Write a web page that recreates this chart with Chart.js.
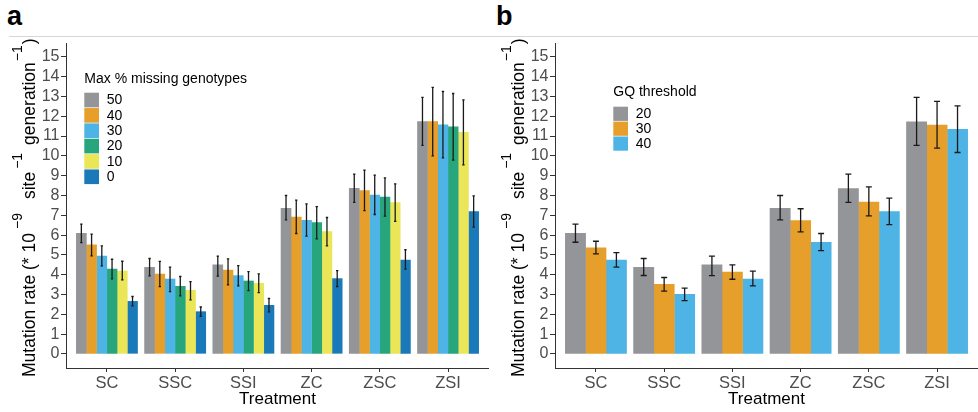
<!DOCTYPE html>
<html>
<head>
<meta charset="utf-8">
<script src="https://cdn.jsdelivr.net/npm/chart.js@4.4.1/dist/chart.umd.min.js"></script>
<style>
  html, body { margin: 0; padding: 0; background: #fff; }
  #wrap { position: relative; width: 978px; height: 412px; overflow: hidden; font-family: 'Liberation Sans', Arial, sans-serif; }
  .rule { position: absolute; left: 9px; top: 36px; width: 969px; height: 1px; background: #d6d6d6; }
  .tag { position: absolute; top: 3px; font-size: 27px; font-weight: bold; line-height: 27px; color: #000; }
  canvas { position: absolute; top: 0; }
</style>
</head>
<body>
<div id="wrap">
  <div class="rule"></div>
  <div class="tag" style="left:7px">a</div>
  <div class="tag" style="left:496px">b</div>
  <canvas id="chartA" width="489" height="412" style="left:0"></canvas>
  <canvas id="chartB" width="489" height="412" style="left:489px"></canvas>
</div>
<script>
const treatments = ['SC', 'SSC', 'SSI', 'ZC', 'ZSC', 'ZSI'];
const yTicks = [0, 1, 2, 3, 4, 5, 6, 7, 8, 9, 10, 11, 12, 13, 14, 15];

// panel a: max % missing genotypes
const missLevels = ['50', '40', '30', '20', '10', '0'];
const miss50 = [6.10, 4.38, 4.51, 7.36, 8.37, 11.74];
const miss50Lo = [5.62, 3.94, 3.93, 6.77, 7.65, 10.53];
const miss50Hi = [6.55, 4.82, 4.94, 8.00, 9.08, 12.95];
const miss40 = [5.51, 4.04, 4.24, 6.92, 8.25, 11.74];
const miss40Lo = [4.95, 3.40, 3.49, 6.08, 7.24, 10.00];
const miss40Hi = [6.05, 4.67, 4.80, 7.77, 9.28, 13.46];
const miss30 = [4.95, 3.79, 3.96, 6.75, 8.03, 11.57];
const miss30Lo = [4.45, 3.15, 3.44, 5.95, 7.04, 9.90];
const miss30Hi = [5.46, 4.38, 4.46, 7.58, 9.03, 13.25];
const miss20 = [4.29, 3.42, 3.69, 6.64, 7.93, 11.47];
const miss20Lo = [3.79, 2.93, 3.20, 5.81, 6.96, 9.79];
const miss20Hi = [4.78, 3.91, 4.16, 7.44, 8.89, 13.15];
const miss10 = [4.19, 3.22, 3.57, 6.18, 7.65, 11.20];
const miss10Lo = [3.74, 2.73, 3.10, 5.46, 6.69, 9.55];
const miss10Hi = [4.68, 3.65, 4.04, 6.89, 8.59, 12.83];
const miss0 = [2.66, 2.14, 2.46, 3.81, 4.75, 7.19];
const miss0Lo = [2.43, 1.90, 2.12, 3.40, 4.28, 6.40];
const miss0Hi = [2.90, 2.37, 2.80, 4.21, 5.26, 7.98];

// panel b: GQ threshold
const gqLevels = ['20', '30', '40'];
const gq20 = [6.10, 4.38, 4.51, 7.36, 8.35, 11.72];
const gq20Lo = [5.64, 3.96, 3.95, 6.77, 7.65, 10.53];
const gq20Hi = [6.55, 4.82, 4.94, 8.00, 9.08, 12.95];
const gq30 = [5.36, 3.52, 4.14, 6.74, 7.68, 11.56];
const gq30Lo = [5.05, 3.17, 3.77, 6.16, 6.97, 10.39];
const gq30Hi = [5.69, 3.86, 4.50, 7.33, 8.44, 12.75];
const gq40 = [4.75, 3.02, 3.79, 5.64, 7.19, 11.35];
const gq40Lo = [4.38, 2.69, 3.44, 5.22, 6.53, 10.17];
const gq40Hi = [5.12, 3.32, 4.18, 6.08, 7.87, 12.53];

const colours = ['#949598', '#E69F2A', '#4EB3E5', '#27A67E', '#EBE558', '#1A79B8'];
const FONT = "'Liberation Sans', Arial, sans-serif";

// error bars drawn on top of each bar
const errorBars = {
  id: 'errorBars',
  afterDatasetsDraw(chart, args, opts) {
    const ctx = chart.ctx, y = chart.scales.y;
    ctx.save();
    ctx.strokeStyle = '#1a1a1a';
    ctx.lineWidth = 1.3;
    chart.data.datasets.forEach((ds, i) => {
      chart.getDatasetMeta(i).data.forEach((bar, j) => {
        const top = y.getPixelForValue(ds.hi[j]);
        const bot = y.getPixelForValue(ds.lo[j]);
        ctx.beginPath();
        ctx.moveTo(bar.x, top); ctx.lineTo(bar.x, bot);
        ctx.moveTo(bar.x - opts.cap, top); ctx.lineTo(bar.x + opts.cap, top);
        ctx.moveTo(bar.x - opts.cap, bot); ctx.lineTo(bar.x + opts.cap, bot);
        ctx.stroke();
      });
    });
    ctx.restore();
  }
};

// ggplot-like legend inside the panel
const keyLegend = {
  id: 'keyLegend',
  afterDraw(chart, args, opts) {
    const ctx = chart.ctx;
    ctx.save();
    ctx.textBaseline = 'middle';
    ctx.textAlign = 'left';
    ctx.fillStyle = '#000';
    ctx.font = '14px ' + FONT;
    ctx.fillText(opts.title, opts.x, opts.titleY);
    chart.data.datasets.forEach((ds, i) => {
      const top = opts.y + i * opts.step;
      ctx.fillStyle = ds.backgroundColor;
      ctx.fillRect(opts.x, top, 14.7, opts.step - 0.7);
      ctx.fillStyle = '#000';
      ctx.fillText(ds.label, opts.x + 22.5, top + opts.step / 2);
    });
    ctx.restore();
  }
};

// y title with superscripts
const yTitle = {
  id: 'yTitle',
  afterDraw(chart) {
    const ctx = chart.ctx;
    const parts = [
      { t: 'Mutation rate (* 10', gap: 4 },
      { t: '\u22129', sup: true, gap: 14 },
      { t: 'site', gap: 3 },
      { t: '\u22121', sup: true, gap: 8 },
      { t: 'generation', gap: 1 },
      { t: '\u22121', sup: true, gap: 1 },
      { t: ')', gap: 0 }
    ];
    ctx.save();
    ctx.translate(34.5, 377);
    ctx.rotate(-Math.PI / 2);
    ctx.fillStyle = '#000';
    ctx.textBaseline = 'alphabetic';
    ctx.textAlign = 'left';
    let pos = 0;
    parts.forEach(p => {
      ctx.font = (p.sup ? '14px ' : '17.5px ') + FONT;
      ctx.fillText(p.t, pos, p.sup ? -13 : 0);
      pos += ctx.measureText(p.t).width + p.gap;
    });
    ctx.restore();
  }
};

function makeDatasets(labels, values, lows, highs) {
  return labels.map((lab, i) => ({
    label: lab,
    data: values[i].map((v, j) => ({ x: j, y: v })),
    lo: lows[i],
    hi: highs[i],
    backgroundColor: colours[i],
    borderWidth: 0,
    inflateAmount: 0.2,
    categoryPercentage: 0.9,
    barPercentage: 1
  }));
}

function makeChart(id, datasets, legendOpts, cap) {
  return new Chart(document.getElementById(id), {
    type: 'bar',
    data: { datasets: datasets },
    plugins: [errorBars, keyLegend, yTitle],
    options: {
      responsive: false,
      animation: false,
      devicePixelRatio: 1,
      layout: { padding: { top: 43, left: 0, right: 0, bottom: 0 } },
      plugins: {
        legend: { display: false },
        tooltip: { enabled: false },
        errorBars: { cap: cap },
        keyLegend: legendOpts
      },
      scales: {
        x: {
          type: 'linear',
          min: -0.6,
          max: 5.6,
          offset: false,
          afterBuildTicks: s => { s.ticks = treatments.map((_, i) => ({ value: i })); },
          afterFit: s => { s.height = 44; },
          grid: { drawOnChartArea: false, drawTicks: true, tickLength: 4, color: '#333', offset: false },
          border: { display: true, color: '#333', width: 1 },
          ticks: {
            autoSkip: false, maxRotation: 0, padding: 2, color: '#4d4d4d',
            font: { family: FONT, size: 16.5 },
            callback: v => treatments[v]
          },
          title: {
            display: true, text: 'Treatment', color: '#000',
            font: { family: FONT, size: 17 }, padding: { top: 0, bottom: 2 }
          }
        },
        y: {
          min: -0.71,
          max: 15.7,
          afterBuildTicks: s => { s.ticks = yTicks.map(v => ({ value: v })); },
          afterFit: s => { s.width = 66; },
          grid: { drawOnChartArea: false, drawTicks: true, tickLength: 5, color: '#333' },
          border: { display: true, color: '#333', width: 1 },
          ticks: { autoSkip: false, padding: 1.5, color: '#4d4d4d', font: { family: FONT, size: 16 } }
        }
      }
    }
  });
}

makeChart('chartA',
  makeDatasets(missLevels,
    [miss50, miss40, miss30, miss20, miss10, miss0],
    [miss50Lo, miss40Lo, miss30Lo, miss20Lo, miss10Lo, miss0Lo],
    [miss50Hi, miss40Hi, miss30Hi, miss20Hi, miss10Hi, miss0Hi]),
  { title: 'Max % missing genotypes', x: 84.3, titleY: 79, y: 92.7, step: 15.35 },
  1.2);

makeChart('chartB',
  makeDatasets(gqLevels,
    [gq20, gq30, gq40],
    [gq20Lo, gq30Lo, gq40Lo],
    [gq20Hi, gq30Hi, gq40Hi]),
  { title: 'GQ threshold', x: 124.3, titleY: 92, y: 106.7, step: 14.9 },
  3);
</script>
</body>
</html>
